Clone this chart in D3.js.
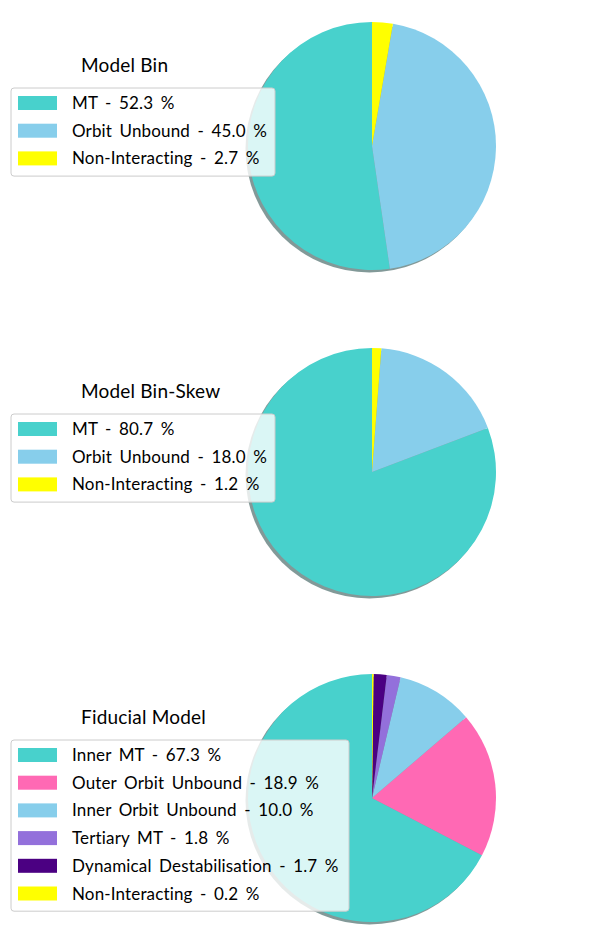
<!DOCTYPE html>
<html>
<head>
<meta charset="utf-8">
<script src="https://cdn.jsdelivr.net/npm/d3@7"></script>
<style>
  body { margin: 0; background: #fff; }
  svg { display: block; }
  text { font-family: "Lato", "DejaVu Sans", sans-serif; fill: #000; }
</style>
</head>
<body>
<svg id="chart" width="614" height="944"></svg>
<script>
// chart values
const titles = ["Model Bin", "Model Bin-Skew", "Fiducial Model"];

const binLabels = ["MT", "Orbit Unbound", "Non-Interacting"];
const binValues = [52.3, 45.0, 2.7];
const binColors = ["#48D1CC", "#87CEEB", "#FFFF00"];

const skewLabels = ["MT", "Orbit Unbound", "Non-Interacting"];
const skewValues = [80.7, 18.0, 1.2];
const skewColors = ["#48D1CC", "#87CEEB", "#FFFF00"];

const fidLabels = ["Inner MT", "Outer Orbit Unbound", "Inner Orbit Unbound",
  "Tertiary MT", "Dynamical Destabilisation", "Non-Interacting"];
const fidValues = [67.3, 18.9, 10.0, 1.8, 1.7, 0.2];
const fidColors = ["#48D1CC", "#FF69B4", "#87CEEB", "#9370DB", "#4B0082", "#FFFF00"];

const panels = [
  { title: titles[0], labels: binLabels, values: binValues, colors: binColors, cy: 146, boxW: 264 },
  { title: titles[1], labels: skewLabels, values: skewValues, colors: skewColors, cy: 472, boxW: 264 },
  { title: titles[2], labels: fidLabels, values: fidValues, colors: fidColors, cy: 798, boxW: 338 }
];

const svg = d3.select("#chart");
const cx = 372, R = 124;

// matplotlib: startangle 90, counterclockwise -> negate angles in d3
const pie = d3.pie().sort(null).value(d => d)
  .startAngle(0).endAngle(-2 * Math.PI);
const arc = d3.arc().innerRadius(0).outerRadius(R);

panels.forEach(p => {
  const g = svg.append("g").attr("transform", `translate(${cx},${p.cy})`);

  // shadow
  g.append("circle")
    .attr("cx", -2.5).attr("cy", 2.5).attr("r", R)
    .attr("fill", "#2f5553").attr("opacity", 0.6);

  g.selectAll("path.slice")
    .data(pie(p.values))
    .enter()
    .append("path")
    .attr("class", "slice")
    .attr("d", arc)
    .attr("fill", (d, i) => p.colors[i]);

  // legend
  const lx = 11, rowH = 27.7;
  const boxH = p.labels.length * rowH + 5;
  const boxTop = p.cy - 58;
  const lg = svg.append("g");

  lg.append("text")
    .attr("x", 81).attr("y", boxTop - 16)
    .style("font-size", "19px")
    .style("letter-spacing", "0.2px")
    .text(p.title);

  lg.append("rect")
    .attr("x", lx).attr("y", boxTop)
    .attr("width", p.boxW).attr("height", boxH)
    .attr("rx", 3)
    .attr("fill", "#fff").attr("fill-opacity", 0.8)
    .attr("stroke", "#cccccc").attr("stroke-width", 1);

  p.labels.forEach((lab, i) => {
    const y = boxTop + 15 + i * rowH;
    lg.append("rect")
      .attr("x", 18).attr("y", y - 7)
      .attr("width", 39).attr("height", 14)
      .attr("fill", p.colors[i]);
    lg.append("text")
      .attr("x", 72).attr("y", y + 6)
      .style("font-size", "17px")
      .style("word-spacing", "3px")
      .style("letter-spacing", "0.15px")
      .text(`${lab} - ${p.values[i].toFixed(1)} %`);
  });
});
</script>
</body>
</html>
